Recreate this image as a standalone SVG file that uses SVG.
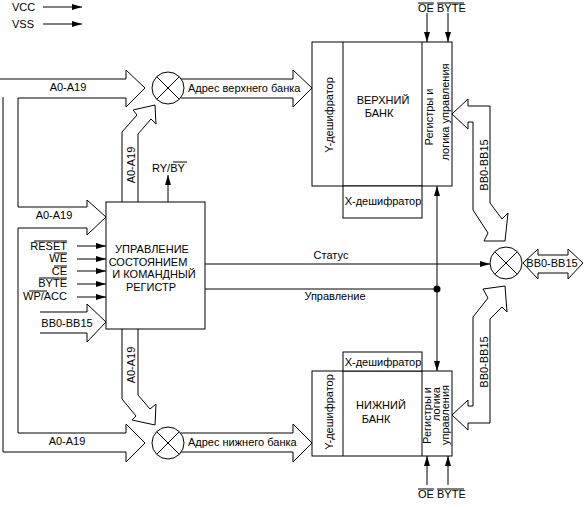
<svg xmlns="http://www.w3.org/2000/svg" width="585" height="507" viewBox="0 0 585 507">
<style>
  .ln{fill:none;stroke:#000;stroke-width:1}
  .blk{fill:#fff;stroke:#000;stroke-width:1}
  .box{fill:#fff;stroke:#000;stroke-width:1}
  text{font-family:"Liberation Sans",Arial,sans-serif;font-size:11px;fill:#000}
  .m{text-anchor:middle}
  .e{text-anchor:end}
</style>
<defs>
  <marker id="ah" viewBox="0 0 10 6" refX="10" refY="3" markerWidth="10" markerHeight="6" markerUnits="userSpaceOnUse" orient="auto">
    <path d="M0,0 L10,3 L0,6 z" fill="#000"/>
  </marker>
</defs>
<rect width="585" height="507" fill="#fff"/>

<g id="legend">
  <text x="12" y="11">VCC</text>
  <text x="12" y="28">VSS</text>
  <line class="ln" x1="43" y1="7" x2="82" y2="7" marker-end="url(#ah)"/>
  <line class="ln" x1="43" y1="24" x2="82" y2="24" marker-end="url(#ah)"/>
</g>

<g id="connectors">
  <!-- main address bus from left -->
  <polyline class="blk" points="0,79 126,79 126,70 145,88 126,107 126,98 18,98 18,207 87,207 87,200 106,217 87,235 87,228 18,228 18,433 126,433 126,424 145,443 126,462 126,452 3,452 3,97"/>
  <!-- BB0-BB15 input -->
  <polyline class="blk" points="40,312 87,312 87,304 106,322 87,342 87,333 40,333"/>
  <!-- bus from control up to upper mux -->
  <polyline class="blk" points="122,202 122,132 137,115 133,110 155,105 156,124 151,119 138,134 138,202"/>
  <!-- bus from control down to lower mux -->
  <polyline class="blk" points="122,329 122,399 136,416 132,420 155,425 156,404 150,409 138,395 138,329"/>
  <!-- address to upper bank -->
  <polyline class="blk" points="181,79 293,79 293,70 312,88 293,107 293,98 181,98"/>
  <!-- address to lower bank -->
  <polyline class="blk" points="181,433 293,433 293,424 312,443 293,462 293,452 181,452"/>
  <!-- BB bus upper -->
  <polygon class="blk" points="452,114 468,99 468,106 490,106 490,203 502,219 508,213 505,241 484,241 488,233 473,210 473,122 468,122 468,129"/>
  <!-- BB bus lower -->
  <polygon class="blk" points="452,415 468,400 468,406 473,406 473,317 488,298 483,289 505,286 507,312 502,307 490,319 490,423 468,423 468,430"/>
  <!-- BB0-BB15 double arrow -->
  <polygon class="blk" points="523,263 538,249 538,255 568,255 568,249 583,263 568,279 568,273 538,273 538,279"/>

  <!-- control signal inputs -->
  <line class="ln" x1="77" y1="246" x2="106" y2="246" marker-end="url(#ah)"/>
  <line class="ln" x1="77" y1="259" x2="106" y2="259" marker-end="url(#ah)"/>
  <line class="ln" x1="77" y1="271" x2="106" y2="271" marker-end="url(#ah)"/>
  <line class="ln" x1="77" y1="284" x2="106" y2="284" marker-end="url(#ah)"/>
  <line class="ln" x1="77" y1="297" x2="106" y2="297" marker-end="url(#ah)"/>
  <!-- RY/BY -->
  <line class="ln" x1="168" y1="202" x2="168" y2="175" marker-end="url(#ah)"/>
  <!-- status and control lines -->
  <line class="ln" x1="205" y1="264" x2="490" y2="264" marker-end="url(#ah)"/>
  <line class="ln" x1="205" y1="289" x2="437" y2="289"/>
  <circle cx="437" cy="289" r="3.5" fill="#000"/>
  <line class="ln" x1="437" y1="289" x2="437" y2="186" marker-end="url(#ah)"/>
  <line class="ln" x1="437" y1="289" x2="437" y2="371" marker-end="url(#ah)"/>
  <!-- OE / BYTE -->
  <line class="ln" x1="427" y1="13" x2="427" y2="42" marker-end="url(#ah)"/>
  <line class="ln" x1="448" y1="13" x2="448" y2="42" marker-end="url(#ah)"/>
  <line class="ln" x1="427" y1="485" x2="427" y2="456" marker-end="url(#ah)"/>
  <line class="ln" x1="448" y1="485" x2="448" y2="456" marker-end="url(#ah)"/>

  <!-- labels -->
  <text x="68" y="91" class="m">A0-A19</text>
  <text x="54" y="219" class="m">A0-A19</text>
  <text x="67" y="445" class="m">A0-A19</text>
  <text x="67" y="327" class="m">BB0-BB15</text>
  <text x="135" y="165" class="m" transform="rotate(-90 135 165)">A0-A19</text>
  <text x="135" y="365" class="m" transform="rotate(-90 135 365)">A0-A19</text>
  <text x="188" y="92">Адрес верхнего банка</text>
  <text x="188" y="446">Адрес нижнего банка</text>
  <text x="488" y="165" class="m" transform="rotate(-90 488 165)">BB0-BB15</text>
  <text x="488" y="362" class="m" transform="rotate(-90 488 362)">BB0-BB15</text>
  <text x="552" y="267" class="m">BB0-BB15</text>
  <text x="331" y="259" class="m">Статус</text>
  <text x="335" y="300" class="m">Управление</text>

  <text x="67" y="250" class="e">RESET</text>
  <text x="67" y="262" class="e">WE</text>
  <text x="67" y="275" class="e">CE</text>
  <text x="67" y="287" class="e">BYTE</text>
  <text x="67" y="300" class="e">WP/ACC</text>
  <line class="ln" x1="34" y1="241" x2="67" y2="241"/>
  <line class="ln" x1="54" y1="253" x2="67" y2="253"/>
  <line class="ln" x1="54" y1="266" x2="67" y2="266"/>
  <line class="ln" x1="39" y1="278" x2="67" y2="278"/>
  <line class="ln" x1="29" y1="291" x2="47" y2="291"/>

  <text x="152" y="172">RY/BY</text>
  <line class="ln" x1="173" y1="162" x2="187" y2="162"/>

  <text x="418" y="12">OE</text>
  <text x="437" y="12">BYTE</text>
  <line class="ln" x1="418" y1="3" x2="434" y2="3"/>
  <line class="ln" x1="437" y1="3" x2="464" y2="3"/>
  <text x="418" y="498">OE</text>
  <text x="437" y="498">BYTE</text>
  <line class="ln" x1="418" y1="489" x2="434" y2="489"/>
  <line class="ln" x1="437" y1="489" x2="464" y2="489"/>
</g>

<g id="node-control">
  <rect class="box" x="106" y="202" width="99" height="127"/>
  <text x="152" y="253" class="m">УПРАВЛЕНИЕ</text>
  <text x="148" y="266" class="m">СОСТОЯНИЕМ</text>
  <text x="154" y="278" class="m">И КОМАНДНЫЙ</text>
  <text x="151" y="291" class="m">РЕГИСТР</text>
</g>

<g id="node-mux-upper">
  <circle class="box" cx="168" cy="88" r="16"/>
  <path class="ln" d="M156.7,76.7 L179.3,99.3 M179.3,76.7 L156.7,99.3"/>
</g>
<g id="node-mux-lower">
  <circle class="box" cx="168" cy="443" r="16"/>
  <path class="ln" d="M156.7,431.7 L179.3,454.3 M179.3,431.7 L156.7,454.3"/>
</g>
<g id="node-mux-right">
  <circle class="box" cx="506" cy="263" r="16"/>
  <path class="ln" d="M494.7,251.7 L517.3,274.3 M517.3,251.7 L494.7,274.3"/>
</g>

<g id="node-upper-bank">
  <rect class="box" x="312" y="42" width="140" height="144"/>
  <line class="ln" x1="343" y1="42" x2="343" y2="186"/>
  <line class="ln" x1="422" y1="42" x2="422" y2="186"/>
  <rect class="box" x="343" y="186" width="79" height="32"/>
  <text x="383" y="205" class="m">X-дешифратор</text>
  <text x="333" y="115" class="m" transform="rotate(-90 333 115)">Y-дешифратор</text>
  <text x="383" y="104" class="m">ВЕРХНИЙ</text>
  <text x="379" y="117" class="m">БАНК</text>
  <text x="433" y="117" class="m" transform="rotate(-90 433 117)">Регистры и</text>
  <text x="449" y="112" class="m" transform="rotate(-90 449 112)">логика управления</text>
</g>

<g id="node-lower-bank">
  <rect class="box" x="312" y="371" width="140" height="85"/>
  <line class="ln" x1="343" y1="371" x2="343" y2="456"/>
  <line class="ln" x1="422" y1="371" x2="422" y2="456"/>
  <rect class="box" x="343" y="352" width="79" height="19"/>
  <text x="383" y="366" class="m">X-дешифратор</text>
  <text x="333" y="412" class="m" transform="rotate(-90 333 412)">Y-дешифратор</text>
  <text x="381" y="409" class="m">НИЖНИЙ</text>
  <text x="376" y="423" class="m">БАНК</text>
  <text x="431" y="387" class="e" transform="rotate(-90 431 387)">Регистры и</text>
  <text x="440" y="387" class="e" transform="rotate(-90 440 387)">логика</text>
  <text x="449" y="385" class="e" transform="rotate(-90 449 385)">управления</text>
</g>
</svg>
